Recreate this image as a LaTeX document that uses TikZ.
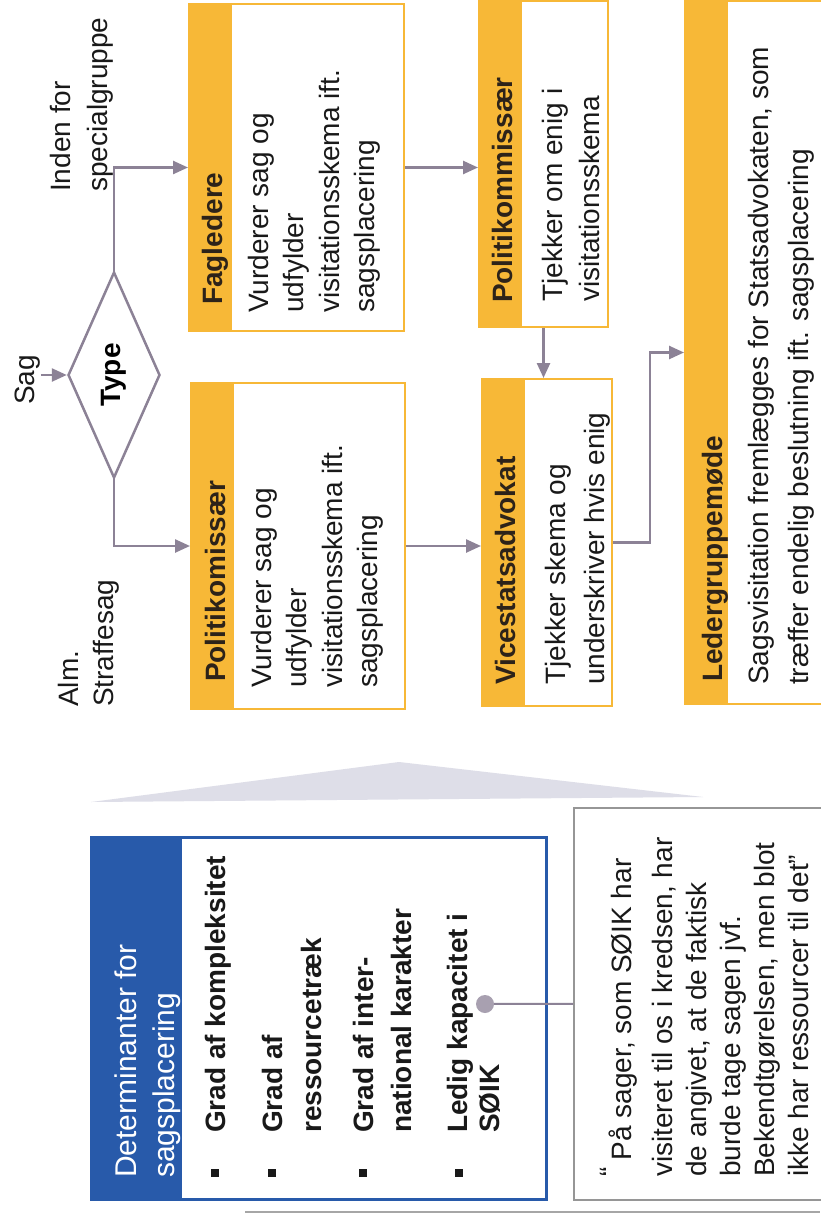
\documentclass[tikz,border=0pt]{standalone}
\usepackage{fontspec}
\setmainfont{Liberation Sans}
\usetikzlibrary{arrows.meta,calc,shapes.geometric}

\definecolor{boxorange}{RGB}{247,184,55}
\definecolor{linegray}{RGB}{140,130,150}
\definecolor{detblue}{RGB}{40,90,170}
\definecolor{wedgegray}{RGB}{222,222,232}
\definecolor{quotegray}{RGB}{150,150,150}
\definecolor{ink}{RGB}{25,25,25}
\definecolor{headink}{RGB}{45,35,25}
\definecolor{dotgray}{RGB}{168,160,176}

\begin{document}
\begin{tikzpicture}[x=1pt,y=1pt,
  flowbox/.style={draw=boxorange, fill=white, line width=2pt, rectangle,
    inner sep=0pt, anchor=north west},
  rtext/.style={rotate=90, anchor=north west, inner sep=0pt, align=left,
    text=ink, font=\fontsize{28}{35.5}\selectfont},
  headtext/.style={rtext, text=headink, font=\fontsize{28}{35.5}\selectfont\bfseries},
  bultext/.style={rtext, font=\fontsize{28}{35.5}\selectfont\bfseries},
  conn/.style={draw=linegray, line width=2.5pt, -{Triangle[length=15pt,width=13pt]}},
  bulletsq/.style={fill=ink, minimum size=8pt, inner sep=0pt, rectangle}
]
\useasboundingbox (0,0) rectangle (820,-1214);
\fill[white] (0,0) rectangle (820,-1214);

% ---------- process boxes ----------
\node[flowbox, minimum width=215pt, minimum height=327pt] (fag)   at (188,-3)   {};
\node[flowbox, minimum width=214pt, minimum height=326pt] (pkom)  at (190,-382) {};
\node[flowbox, minimum width=129pt, minimum height=326pt] (pk2)   at (478,0)    {};
\node[flowbox, minimum width=130pt, minimum height=327pt] (vice)  at (481,-378) {};
\node[flowbox, minimum width=150pt, minimum height=703pt] (leder) at (684,0)    {};
\foreach \b in {fag,pkom,pk2,vice,leder}
  \fill[boxorange] (\b.north west) rectangle ($(\b.south west)+(44,0)$);

% box headings and descriptions
\node[headtext] (fagh) at (202,-305) {Fagledere};
\node[rtext] (fagt) at (248,-313) {Vurderer sag og\\udfylder\\visitationsskema ift.\\sagsplacering};
\node[headtext] (pkomh) at (205,-682) {Politikomissær};
\node[rtext] (pkomt) at (251,-688) {Vurderer sag og\\udfylder\\visitationsskema ift.\\sagsplacering};
\node[headtext] (pk2h) at (492,-303) {Politikommissær};
\node[rtext] (pk2t) at (542,-302) {Tjekker om enig i\\[2pt]visitationsskema};
\node[headtext] (viceh) at (495,-685) {Vicestatsadvokat};
\node[rtext] (vicet) at (545,-685) {Tjekker skema og\\[4pt]underskriver hvis enig};
\node[headtext] (lederh) at (702,-682) {Ledergruppemøde};
\node[rtext] (ledert) at (748,-685) {Sagsvisitation fremlægges for Statsadvokaten, som\\[4pt]træffer endelig beslutning ift. sagsplacering};

% ---------- decision ----------
\node[draw=linegray, line width=2.5pt, diamond, minimum width=92pt,
  minimum height=206pt, inner sep=0pt] (type) at (114,-375)
  {\rotatebox{90}{\fontsize{28}{34}\selectfont\bfseries Type}};

\node[rtext] (sag) at (15,-405) {Sag};
\node[rtext] (inden) at (50,-192) {Inden for\\[2pt]specialgruppe};
\node[rtext] (alm) at (58,-707) {Alm.\\Straffesag};

% ---------- flow connectors ----------
\draw[conn] (sag.south |- type.west) -- (type.west);
\draw[conn] (type.north) |- (fag.west);
\draw[conn] (type.south) |- (pkom.west);
\draw[conn] (fag.east) -- (fag.east -| pk2.west);
\draw[conn] (pkom.east) -- (pkom.east -| vice.west);
\draw[conn] (pk2.south) -- (pk2.south |- vice.north);
\draw[conn] (vice.east) -- ++(37,0) |- (leder.west);

% ---------- zoom wedge ----------
\fill[wedgegray] (91,-802) -- (399,-762) -- (703,-797) -- cycle;

% ---------- determinants ----------
\node[draw=detblue, line width=2.5pt, fill=white, minimum width=455pt,
  minimum height=362pt, anchor=north west, inner sep=0pt] (det) at (90,-836) {};
\fill[detblue] (det.north west) rectangle ($(det.south west)+(92,0)$);
\node[rtext, text=white, font=\fontsize{30}{38}\selectfont] (deth) at (115,-1178)
  {Determinanter for\\sagsplacering};

\node[bulletsq] (b1) at (215,-1173) {};
\node[bulletsq] (b2) at (272,-1173) {};
\node[bulletsq] (b3) at (363,-1173) {};
\node[bulletsq] (b4) at (459,-1173) {};
\node[bultext] (d1) at (205,-1133) {Grad af kompleksitet};
\node[bultext] (d2) at (262,-1133) {Grad af\\[4pt]ressourcetræk};
\node[bultext] (d3) at (353,-1133) {Grad af inter-\\[3pt]national karakter};
\node[bultext] (d4) at (447,-1133) {Ledig kapacitet i\\[-3pt]SØIK};

% ---------- quotation ----------
\node[draw=quotegray, line width=1.5pt, fill=white, minimum width=262pt,
  minimum height=392pt, anchor=north west, inner sep=0pt] (quote) at (573,-807) {};
\node[circle, fill=dotgray, minimum size=18pt, inner sep=0pt] (dot) at (485,-1004) {};
\draw[linegray, line width=2pt] (dot) -- (quote.west);
\node[rtext, font=\fontsize{28}{34}\selectfont] (qt) at (600,-1177)
  {\raisebox{12pt}{“}\hspace{7pt}På sager, som SØIK har\\[7pt]visiteret til os i kredsen, har\\de angivet, at de faktisk\\burde tage sagen jvf.\\Bekendtgørelsen, men blot\\ikke har ressourcer til det”};

% page edge shadow
\draw[gray!70, line width=2.5pt] (245,-1212) -- (820,-1212);
\end{tikzpicture}
\end{document}
